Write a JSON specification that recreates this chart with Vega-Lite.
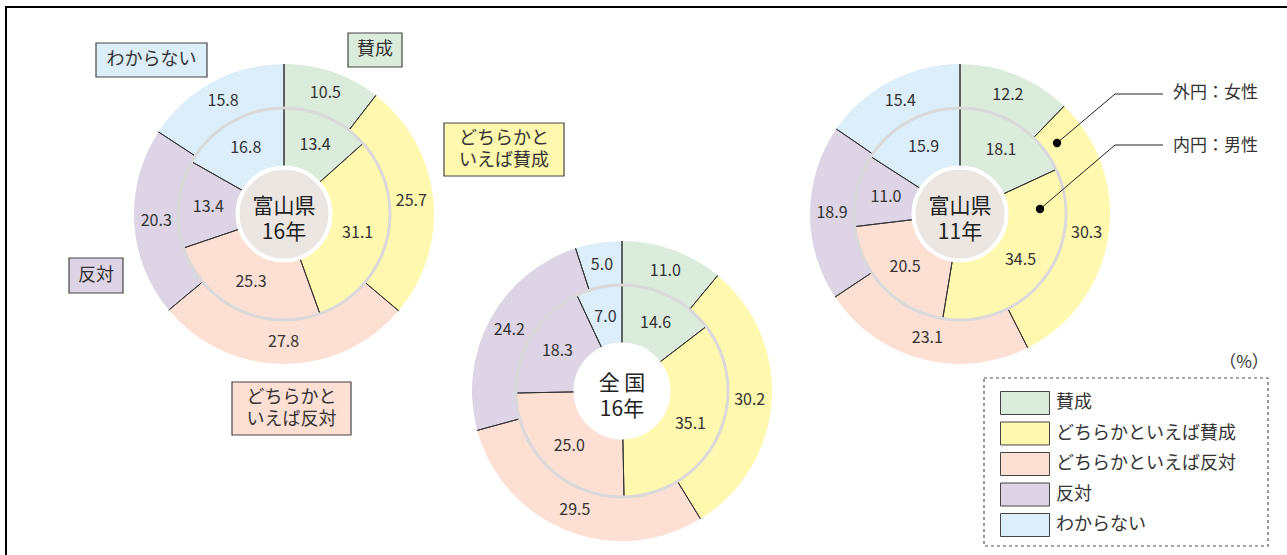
{
  "$schema": "https://vega.github.io/schema/vega-lite/v6.json",
  "width": 1287,
  "height": 555,
  "autosize": {"type": "fit", "contains": "padding"},
  "padding": {"left": 6, "top": 7, "right": -2, "bottom": -2},
  "background": "#ffffff",
  "datasets": {
    "results": [
      {"survey": "富山県16年", "region": "富山県", "sex": "女性", "k": 1, "cat": "賛成", "value": 10.5},
      {"survey": "富山県16年", "region": "富山県", "sex": "女性", "k": 2, "cat": "どちらかといえば賛成", "value": 25.7},
      {"survey": "富山県16年", "region": "富山県", "sex": "女性", "k": 3, "cat": "どちらかといえば反対", "value": 27.8},
      {"survey": "富山県16年", "region": "富山県", "sex": "女性", "k": 4, "cat": "反対", "value": 20.3},
      {"survey": "富山県16年", "region": "富山県", "sex": "女性", "k": 5, "cat": "わからない", "value": 15.8},
      {"survey": "富山県16年", "region": "富山県", "sex": "男性", "k": 1, "cat": "賛成", "value": 13.4},
      {"survey": "富山県16年", "region": "富山県", "sex": "男性", "k": 2, "cat": "どちらかといえば賛成", "value": 31.1},
      {"survey": "富山県16年", "region": "富山県", "sex": "男性", "k": 3, "cat": "どちらかといえば反対", "value": 25.3},
      {"survey": "富山県16年", "region": "富山県", "sex": "男性", "k": 4, "cat": "反対", "value": 13.4},
      {"survey": "富山県16年", "region": "富山県", "sex": "男性", "k": 5, "cat": "わからない", "value": 16.8},
      {"survey": "全国16年", "region": "全国", "sex": "女性", "k": 1, "cat": "賛成", "value": 11.0},
      {"survey": "全国16年", "region": "全国", "sex": "女性", "k": 2, "cat": "どちらかといえば賛成", "value": 30.2},
      {"survey": "全国16年", "region": "全国", "sex": "女性", "k": 3, "cat": "どちらかといえば反対", "value": 29.5},
      {"survey": "全国16年", "region": "全国", "sex": "女性", "k": 4, "cat": "反対", "value": 24.2},
      {"survey": "全国16年", "region": "全国", "sex": "女性", "k": 5, "cat": "わからない", "value": 5.0},
      {"survey": "全国16年", "region": "全国", "sex": "男性", "k": 1, "cat": "賛成", "value": 14.6},
      {"survey": "全国16年", "region": "全国", "sex": "男性", "k": 2, "cat": "どちらかといえば賛成", "value": 35.1},
      {"survey": "全国16年", "region": "全国", "sex": "男性", "k": 3, "cat": "どちらかといえば反対", "value": 25.0},
      {"survey": "全国16年", "region": "全国", "sex": "男性", "k": 4, "cat": "反対", "value": 18.3},
      {"survey": "全国16年", "region": "全国", "sex": "男性", "k": 5, "cat": "わからない", "value": 7.0},
      {"survey": "富山県11年", "region": "富山県", "sex": "女性", "k": 1, "cat": "賛成", "value": 12.2},
      {"survey": "富山県11年", "region": "富山県", "sex": "女性", "k": 2, "cat": "どちらかといえば賛成", "value": 30.3},
      {"survey": "富山県11年", "region": "富山県", "sex": "女性", "k": 3, "cat": "どちらかといえば反対", "value": 23.1},
      {"survey": "富山県11年", "region": "富山県", "sex": "女性", "k": 4, "cat": "反対", "value": 18.9},
      {"survey": "富山県11年", "region": "富山県", "sex": "女性", "k": 5, "cat": "わからない", "value": 15.4},
      {"survey": "富山県11年", "region": "富山県", "sex": "男性", "k": 1, "cat": "賛成", "value": 18.1},
      {"survey": "富山県11年", "region": "富山県", "sex": "男性", "k": 2, "cat": "どちらかといえば賛成", "value": 34.5},
      {"survey": "富山県11年", "region": "富山県", "sex": "男性", "k": 3, "cat": "どちらかといえば反対", "value": 20.5},
      {"survey": "富山県11年", "region": "富山県", "sex": "男性", "k": 4, "cat": "反対", "value": 11.0},
      {"survey": "富山県11年", "region": "富山県", "sex": "男性", "k": 5, "cat": "わからない", "value": 15.9}
    ],
    "surveys": [
      {"survey": "富山県16年", "region": "富山県", "title": "富山県\n16年"},
      {"survey": "全国16年", "region": "全国", "title": "全 国\n16年"},
      {"survey": "富山県11年", "region": "富山県", "title": "富山県\n11年"}
    ]
  },
  "encoding": {
    "x": {"field": "survey", "type": "nominal", "scale": {"type": "point", "domain": ["富山県16年", "全国16年", "富山県11年"], "range": [278, 954], "padding": 0}, "axis": null},
    "y": {"field": "region", "type": "nominal", "scale": {"type": "point", "domain": ["富山県", "全国"], "range": [207, 384], "padding": 0}, "axis": null}
  },
  "layer": [
    {
      "data": {"name": "results"},
      "encoding": {
        "theta": {"field": "value", "type": "quantitative", "stack": "normalize", "scale": {"domain": [0, 1]}},
        "order": {"field": "k", "type": "quantitative"},
        "color": {
          "field": "cat", "type": "nominal",
          "scale": {"domain": ["賛成", "どちらかといえば賛成", "どちらかといえば反対", "反対", "わからない"], "range": ["#dbebdc", "#fff8ae", "#fde0d3", "#ddd4e6", "#dbeefa"]},
          "legend": {
            "orient": "none", "legendX": 994, "legendY": 384, "title": null,
            "symbolType": "M-2.13,-1H2.13V1H-2.13Z", "symbolSize": 529,
            "symbolStrokeColor": "#444444", "symbolStrokeWidth": 1, "symbolOpacity": 1,
            "symbolOffset": 13, "labelOffset": 19, "rowPadding": 2.5, "padding": 0,
            "labelFontSize": 18, "labelColor": "#333333", "labelFont": "Noto Sans CJK JP", "labelLimit": 400
          }
        }
      },
      "layer": [
        {"transform": [{"filter": "datum.survey==='富山県16年' && datum.sex==='女性'"}], "layer": [
          {"mark": {"type": "arc", "innerRadius": 106, "outerRadius": 150}},
          {"mark": {"type": "text", "radius": 128, "fontSize": 16}, "encoding": {"text": {"field": "value", "type": "quantitative", "format": ".1f"}, "color": {"value": "#333333"}}}
        ]},
        {"transform": [{"filter": "datum.survey==='富山県16年' && datum.sex==='男性'"}], "layer": [
          {"mark": {"type": "arc", "innerRadius": 47, "outerRadius": 106}},
          {"mark": {"type": "text", "radius": 76, "fontSize": 16}, "encoding": {"text": {"field": "value", "type": "quantitative", "format": ".1f"}, "color": {"value": "#333333"}}}
        ]},
        {"transform": [{"filter": "datum.survey==='全国16年' && datum.sex==='女性'"}], "layer": [
          {"mark": {"type": "arc", "innerRadius": 106, "outerRadius": 150}},
          {"mark": {"type": "text", "radius": 128, "fontSize": 16}, "encoding": {"text": {"field": "value", "type": "quantitative", "format": ".1f"}, "color": {"value": "#333333"}}}
        ]},
        {"transform": [{"filter": "datum.survey==='全国16年' && datum.sex==='男性'"}], "layer": [
          {"mark": {"type": "arc", "innerRadius": 47, "outerRadius": 106}},
          {"mark": {"type": "text", "radius": 76, "fontSize": 16}, "encoding": {"text": {"field": "value", "type": "quantitative", "format": ".1f"}, "color": {"value": "#333333"}}}
        ]},
        {"transform": [{"filter": "datum.survey==='富山県11年' && datum.sex==='女性'"}], "layer": [
          {"mark": {"type": "arc", "innerRadius": 106, "outerRadius": 150}},
          {"mark": {"type": "text", "radius": 128, "fontSize": 16}, "encoding": {"text": {"field": "value", "type": "quantitative", "format": ".1f"}, "color": {"value": "#333333"}}}
        ]},
        {"transform": [{"filter": "datum.survey==='富山県11年' && datum.sex==='男性'"}], "layer": [
          {"mark": {"type": "arc", "innerRadius": 47, "outerRadius": 106}},
          {"mark": {"type": "text", "radius": 76, "fontSize": 16}, "encoding": {"text": {"field": "value", "type": "quantitative", "format": ".1f"}, "color": {"value": "#333333"}}}
        ]}
      ]
    },
    {
      "data": {"name": "surveys"},
      "mark": {"type": "arc", "theta": 0, "theta2": 6.2832, "innerRadius": 104.5, "outerRadius": 107.5, "fill": "#d9d9d9"}
    },
    {
      "data": {"name": "results"},
      "transform": [
        {"stack": "value", "groupby": ["survey", "sex"], "sort": [{"field": "k", "order": "ascending"}], "offset": "normalize", "as": ["v0", "v1"]},
        {"filter": "datum.sex==='女性'"}
      ],
      "mark": {"type": "arc", "filled": false, "innerRadius": 107.5, "outerRadius": 150, "stroke": "#333333", "strokeWidth": 1},
      "encoding": {
        "theta": {"field": "v0", "type": "quantitative", "stack": null, "scale": {"domain": [0, 1]}},
        "theta2": {"field": "v0"}
      }
    },
    {
      "data": {"name": "results"},
      "transform": [
        {"stack": "value", "groupby": ["survey", "sex"], "sort": [{"field": "k", "order": "ascending"}], "offset": "normalize", "as": ["v0", "v1"]},
        {"filter": "datum.sex==='男性'"}
      ],
      "mark": {"type": "arc", "filled": false, "innerRadius": 47, "outerRadius": 104.5, "stroke": "#333333", "strokeWidth": 1},
      "encoding": {
        "theta": {"field": "v0", "type": "quantitative", "stack": null, "scale": {"domain": [0, 1]}},
        "theta2": {"field": "v0"}
      }
    },
    {
      "data": {"name": "surveys"},
      "mark": {"type": "arc", "theta": 0, "theta2": 6.2832, "innerRadius": 0, "outerRadius": 46.5, "stroke": "#ffffff", "strokeWidth": 4},
      "encoding": {
        "fill": {"field": "region", "type": "nominal", "scale": {"domain": ["富山県", "全国"], "range": ["#ebe6e2", "#ffffff"]}, "legend": null}
      }
    },
    {
      "data": {"name": "surveys"},
      "mark": {"type": "text", "fontSize": 21, "lineHeight": 26, "lineBreak": "\n", "baseline": "middle", "dy": -7, "color": "#222222"},
      "encoding": {"text": {"field": "title"}}
    },
    {
      "data": {"values": [{"survey": "富山県16年", "region": "富山県", "label": "賛成"}]},
      "layer": [
        {"mark": {"type": "rect", "width": 54, "height": 34, "xOffset": 91, "yOffset": -164, "fill": "#dbebdc", "stroke": "#444444", "strokeWidth": 1.2}},
        {"mark": {"type": "text", "dx": 91, "dy": -164, "fontSize": 18, "baseline": "middle", "color": "#333333"}, "encoding": {"text": {"field": "label"}}}
      ]
    },
    {
      "data": {"values": [{"survey": "富山県16年", "region": "富山県", "label": "わからない"}]},
      "layer": [
        {"mark": {"type": "rect", "width": 111, "height": 34, "xOffset": -132.5, "yOffset": -154, "fill": "#dbeefa", "stroke": "#444444", "strokeWidth": 1.2}},
        {"mark": {"type": "text", "dx": -132.5, "dy": -154, "fontSize": 18, "baseline": "middle", "color": "#333333"}, "encoding": {"text": {"field": "label"}}}
      ]
    },
    {
      "data": {"values": [{"survey": "富山県16年", "region": "富山県", "label": "どちらかと\nいえば賛成"}]},
      "layer": [
        {"mark": {"type": "rect", "width": 120, "height": 53, "xOffset": 220, "yOffset": -64.5, "fill": "#fff8ae", "stroke": "#444444", "strokeWidth": 1.2}},
        {"mark": {"type": "text", "dx": 220, "dy": -75.5, "fontSize": 18, "lineHeight": 22, "lineBreak": "\n", "baseline": "middle", "color": "#333333"}, "encoding": {"text": {"field": "label"}}}
      ]
    },
    {
      "data": {"values": [{"survey": "富山県16年", "region": "富山県", "label": "反対"}]},
      "layer": [
        {"mark": {"type": "rect", "width": 54, "height": 35, "xOffset": -188, "yOffset": 61.5, "fill": "#ddd4e6", "stroke": "#444444", "strokeWidth": 1.2}},
        {"mark": {"type": "text", "dx": -188, "dy": 61.5, "fontSize": 18, "baseline": "middle", "color": "#333333"}, "encoding": {"text": {"field": "label"}}}
      ]
    },
    {
      "data": {"values": [{"survey": "富山県16年", "region": "富山県", "label": "どちらかと\nいえば反対"}]},
      "layer": [
        {"mark": {"type": "rect", "width": 119, "height": 53, "xOffset": 7.5, "yOffset": 194.5, "fill": "#fde0d3", "stroke": "#444444", "strokeWidth": 1.2}},
        {"mark": {"type": "text", "dx": 7.5, "dy": 183.5, "fontSize": 18, "lineHeight": 22, "lineBreak": "\n", "baseline": "middle", "color": "#333333"}, "encoding": {"text": {"field": "label"}}}
      ]
    },
    {
      "data": {"values": [{"survey": "富山県11年", "region": "富山県", "outer": "外円：女性", "inner": "内円：男性", "unit": "（%）"}]},
      "layer": [
        {"mark": {"type": "rule", "xOffset": 97, "yOffset": -71, "x2Offset": 155, "y2Offset": -120, "color": "#222222", "strokeWidth": 1}, "encoding": {"x2": {"field": "survey"}, "y2": {"field": "region"}}},
        {"mark": {"type": "rule", "xOffset": 155, "yOffset": -120, "x2Offset": 203, "y2Offset": -120, "color": "#222222", "strokeWidth": 1}, "encoding": {"x2": {"field": "survey"}, "y2": {"field": "region"}}},
        {"mark": {"type": "rule", "xOffset": 80, "yOffset": -5, "x2Offset": 155, "y2Offset": -69, "color": "#222222", "strokeWidth": 1}, "encoding": {"x2": {"field": "survey"}, "y2": {"field": "region"}}},
        {"mark": {"type": "rule", "xOffset": 155, "yOffset": -69, "x2Offset": 203, "y2Offset": -69, "color": "#222222", "strokeWidth": 1}, "encoding": {"x2": {"field": "survey"}, "y2": {"field": "region"}}},
        {"mark": {"type": "circle", "xOffset": 97, "yOffset": -71, "size": 70, "color": "#000000", "opacity": 1}},
        {"mark": {"type": "circle", "xOffset": 80, "yOffset": -5, "size": 70, "color": "#000000", "opacity": 1}},
        {"mark": {"type": "text", "dx": 213, "dy": -121, "align": "left", "baseline": "middle", "fontSize": 17, "color": "#333333"}, "encoding": {"text": {"field": "outer"}}},
        {"mark": {"type": "text", "dx": 213, "dy": -68, "align": "left", "baseline": "middle", "fontSize": 17, "color": "#333333"}, "encoding": {"text": {"field": "inner"}}},
        {"mark": {"type": "text", "dx": 284, "dy": 149, "baseline": "middle", "fontSize": 17, "color": "#333333"}, "encoding": {"text": {"field": "unit"}}},
        {"mark": {"type": "rect", "width": 284, "height": 168, "xOffset": 166, "yOffset": 248, "filled": false, "stroke": "#555555", "strokeWidth": 1.2, "strokeDash": [3, 3]}}
      ]
    }
  ],
  "config": {
    "view": {"stroke": "#000000", "strokeWidth": 2},
    "font": "Noto Sans CJK JP",
    "text": {"font": "Noto Sans CJK JP", "color": "#333333"}
  }
}
